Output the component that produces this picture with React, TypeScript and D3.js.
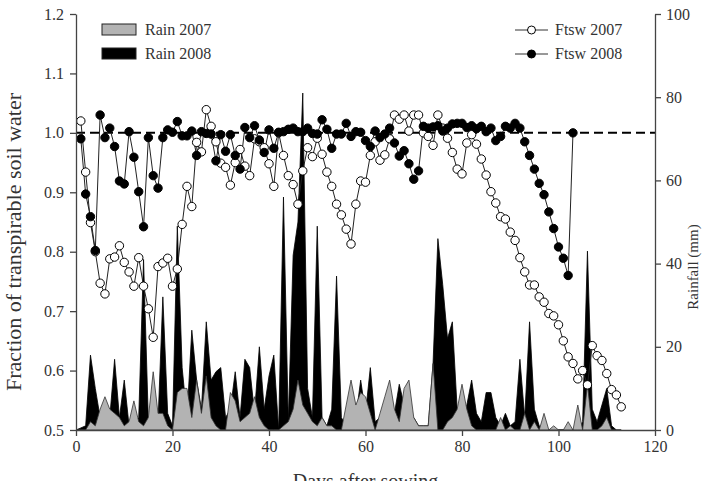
import React, { useEffect, useRef } from "react";
import * as d3 from "d3";

// Ftsw values, one per day, starting at day 1
const ftsw2007 = [
  1.02, 0.934, 0.849, 0.8, 0.747, 0.729, 0.788, 0.791, 0.81, 0.782,
  0.766, 0.742, 0.79, 0.742, 0.704, 0.656, 0.775, 0.781, 0.789, 0.742,
  0.771, 0.846, 0.91, 0.876, 0.984, 0.968, 1.039, 1.011, 0.985, 0.949,
  0.942, 0.912, 0.95, 0.972, 0.944, 0.928, 0.99, 0.985, 0.975, 0.948,
  0.91, 1.0, 0.962, 0.928, 0.913, 0.88, 0.936, 0.975, 0.96, 0.991,
  0.964, 0.934, 0.91, 0.88, 0.862, 0.838, 0.813, 0.88, 0.919, 0.917,
  0.962, 0.985, 0.954, 0.963, 0.99, 1.03, 1.023, 1.03, 1.003, 1.03,
  1.03, 1.0, 0.994, 0.979, 1.03, 1.008, 0.991, 0.967, 0.939, 0.931,
  0.983, 0.997, 0.981, 0.956, 0.929, 0.901, 0.882, 0.859, 0.855, 0.833,
  0.819, 0.79, 0.766, 0.744, 0.744, 0.724, 0.715, 0.696, 0.692, 0.677,
  0.65, 0.623, 0.612, 0.586, 0.6, 0.576, 0.642, 0.625, 0.617, 0.595,
  0.568, 0.559, 0.539,
];
const ftsw2008 = [
  0.99, 0.897, 0.859, 0.802, 1.03, 0.992, 1.008, 0.977, 0.919, 0.914,
  1.002, 0.959, 0.901, 0.842, 0.992, 0.928, 0.907, 0.992, 1.005, 1.001,
  1.019, 0.995, 0.995, 1.003, 0.962, 1.002, 0.999, 0.998, 0.953, 0.997,
  0.969, 0.997, 0.962, 0.939, 1.009, 0.992, 1.012, 0.988, 0.967, 1.005,
  0.974, 1.001, 1.002, 1.006, 1.008, 1.002, 1.002, 1.008, 0.999, 0.998,
  1.022, 1.006, 0.974, 0.998, 0.998, 1.016, 0.994, 1.002, 1.001, 0.987,
  0.977, 1.003, 0.992, 0.998, 1.008, 0.983, 0.961, 0.97, 0.948, 0.922,
  0.936, 1.011, 1.008, 1.01, 1.012, 1.003, 1.008, 1.015, 1.016, 1.016,
  1.009, 1.012, 1.007, 1.011, 1.002, 1.008, 0.987, 0.994, 1.011, 1.008,
  1.016, 1.008, 0.985, 0.962, 0.939, 0.915, 0.896, 0.867, 0.839, 0.808,
  0.789, 0.76, 1.0,
];
const ftswStartDay = 1;

// daily rainfall (mm), starting at day 0
const rain2007 = [
  0, 0, 0, 2, 1, 5, 8, 5, 4, 3, 1, 2, 7, 2, 1, 3, 14, 4, 4, 1,
  0, 9, 10, 10, 3, 12, 4, 13, 3, 1, 0, 0, 9, 7, 2, 3, 4, 8, 3, 1,
  0, 0, 0, 1, 2, 5, 12, 6, 4, 2, 1, 3, 1, 1, 0, 0, 6, 12, 6, 9,
  8, 4, 0, 4, 8, 12, 5, 2, 10, 12, 3, 1, 1, 1, 16, 0, 0, 2, 3, 5,
  11, 5, 1, 0, 0, 0, 0, 0, 3, 0, 1, 0, 0, 4, 0, 2, 0, 4, 0, 1,
  0, 0, 2, 0, 6, 0, 11, 0, 0, 1, 3, 0, 0,
];
const rain2008 = [
  0, 0.5, 1, 18, 10, 3, 2, 3, 17, 3, 12, 1, 2, 3, 41, 2, 1, 2, 32, 4,
  1, 49, 15, 3, 24, 12, 5, 26, 12, 14, 15, 3, 5, 14, 3, 17, 15, 4, 20, 5,
  13, 18, 0, 56, 2, 42, 50, 81, 10, 3, 49, 3, 1, 5, 37, 3, 1, 5, 3, 12,
  4, 15, 2, 3, 5, 10, 4, 11, 6, 2, 3, 1, 1, 1, 16, 46, 35, 22, 26, 5,
  3, 6, 12, 4, 2, 9, 9, 3, 1, 4, 1, 2, 17, 3, 26, 5, 1, 0, 0, 0,
  0, 0, 0, 0, 0, 2, 43, 5, 2, 6, 10, 1, 0, 0,
];

const xTicks = [0, 20, 40, 60, 80, 100, 120];
const yTicks = [0.5, 0.6, 0.7, 0.8, 0.9, 1.0, 1.1, 1.2];
const y2Ticks = [0, 20, 40, 60, 80, 100];

const W = 710;
const H = 481;
const plot = { left: 76, right: 655, top: 14, bottom: 430 };
const FONT = "'Liberation Serif', 'Times New Roman', serif";

export default function App() {
  const ref = useRef<SVGSVGElement>(null);

  useEffect(() => {
    const svg = d3.select(ref.current);
    svg.selectAll("*").remove();

    const x = d3.scaleLinear().domain([0, 120]).range([plot.left, plot.right]);
    const y = d3.scaleLinear().domain([0.5, 1.2]).range([plot.bottom, plot.top]);
    const y2 = d3.scaleLinear().domain([0, 100]).range([plot.bottom, plot.top]);

    const axisColor = "#444";

    // rainfall areas (2008 behind, 2007 in front)
    const area = d3
      .area<number>()
      .x((_, i) => x(i))
      .y0(y2(0))
      .y1((d) => y2(d));
    svg.append("path").attr("d", area(rain2008)).attr("fill", "#000").attr("stroke", "#000").attr("stroke-width", 0.8);
    svg
      .append("path")
      .attr("d", area(rain2007))
      .attr("fill", "#b3b3b3")
      .attr("stroke", "#333")
      .attr("stroke-width", 0.8);

    // reference line at ftsw = 1
    svg
      .append("line")
      .attr("x1", plot.left)
      .attr("x2", plot.right)
      .attr("y1", y(1))
      .attr("y2", y(1))
      .attr("stroke", "#000")
      .attr("stroke-width", 2)
      .attr("stroke-dasharray", "9,5");

    // ftsw lines + markers
    const line = d3
      .line<number>()
      .x((_, i) => x(i + ftswStartDay))
      .y((d) => y(d));
    const series = [
      { data: ftsw2007, fill: "#fff" },
      { data: ftsw2008, fill: "#000" },
    ];
    series.forEach((s) => {
      svg.append("path").attr("d", line(s.data)).attr("fill", "none").attr("stroke", "#222").attr("stroke-width", 1);
    });
    series.forEach((s) => {
      svg
        .append("g")
        .selectAll("circle")
        .data(s.data)
        .enter()
        .append("circle")
        .attr("cx", (_, i) => x(i + ftswStartDay))
        .attr("cy", (d) => y(d))
        .attr("r", 4.2)
        .attr("fill", s.fill)
        .attr("stroke", "#000")
        .attr("stroke-width", 1);
    });

    // axes
    const left = svg
      .append("g")
      .attr("transform", `translate(${plot.left},0)`)
      .call(d3.axisLeft(y).tickValues(yTicks).tickFormat(d3.format(".1f")).tickSize(6).tickSizeOuter(0));
    const bottom = svg
      .append("g")
      .attr("transform", `translate(0,${plot.bottom})`)
      .call(d3.axisBottom(x).tickValues(xTicks).tickSize(6).tickSizeOuter(0));
    const right = svg
      .append("g")
      .attr("transform", `translate(${plot.right},0)`)
      .call(d3.axisRight(y2).tickValues(y2Ticks).tickSize(6).tickSizeOuter(0));
    [left, bottom, right].forEach((g) => {
      g.attr("font-family", FONT).attr("font-size", 16);
      g.selectAll("path,line").attr("stroke", axisColor).attr("stroke-width", 1.3);
      g.selectAll("text").attr("fill", "#333").style("font-family", FONT).style("font-size", "16px");
    });
    left.selectAll("text").attr("x", -12);
    right.selectAll("text").attr("x", 11);
    bottom.selectAll("text").attr("y", 11);

    // axis titles
    svg
      .append("text")
      .attr("transform", `translate(21,${(plot.top + plot.bottom) / 2 + 20}) rotate(-90)`)
      .attr("text-anchor", "middle")
      .style("font-family", FONT)
      .style("font-size", "22px")
      .attr("fill", "#333")
      .text("Fraction of transpirable soil water");
    svg
      .append("text")
      .attr("transform", `translate(698,${(plot.top + plot.bottom) / 2 + 45}) rotate(-90)`)
      .attr("text-anchor", "middle")
      .style("font-family", FONT)
      .style("font-size", "15px")
      .attr("fill", "#333")
      .text("Rainfall (mm)");
    svg
      .append("text")
      .attr("x", (plot.left + plot.right) / 2)
      .attr("y", 488)
      .attr("text-anchor", "middle")
      .style("font-family", FONT)
      .style("font-size", "20px")
      .attr("fill", "#333")
      .text("Days after sowing");

    // legends
    const legRain = [
      { label: "Rain 2007", fill: "#b3b3b3", y: 24 },
      { label: "Rain 2008", fill: "#000", y: 48 },
    ];
    legRain.forEach((l) => {
      svg.append("rect").attr("x", 102).attr("y", l.y).attr("width", 34).attr("height", 11).attr("fill", l.fill).attr("stroke", "#222");
      svg
        .append("text")
        .attr("x", 145)
        .attr("y", l.y + 11)
        .style("font-family", FONT)
        .style("font-size", "16px")
        .attr("fill", "#333")
        .text(l.label);
    });
    const legFtsw = [
      { label: "Ftsw 2007", fill: "#fff", y: 30 },
      { label: "Ftsw 2008", fill: "#000", y: 54 },
    ];
    legFtsw.forEach((l) => {
      svg.append("line").attr("x1", 515).attr("x2", 548).attr("y1", l.y).attr("y2", l.y).attr("stroke", "#333").attr("stroke-width", 1);
      svg.append("circle").attr("cx", 531.5).attr("cy", l.y).attr("r", 4).attr("fill", l.fill).attr("stroke", "#000");
      svg
        .append("text")
        .attr("x", 555)
        .attr("y", l.y + 5)
        .style("font-family", FONT)
        .style("font-size", "16px")
        .attr("fill", "#333")
        .text(l.label);
    });
  }, []);

  return (
    <svg
      ref={ref}
      width={W}
      height={H}
      style={{ position: "absolute", left: 0, top: 0, background: "#fff" }}
    />
  );
}
